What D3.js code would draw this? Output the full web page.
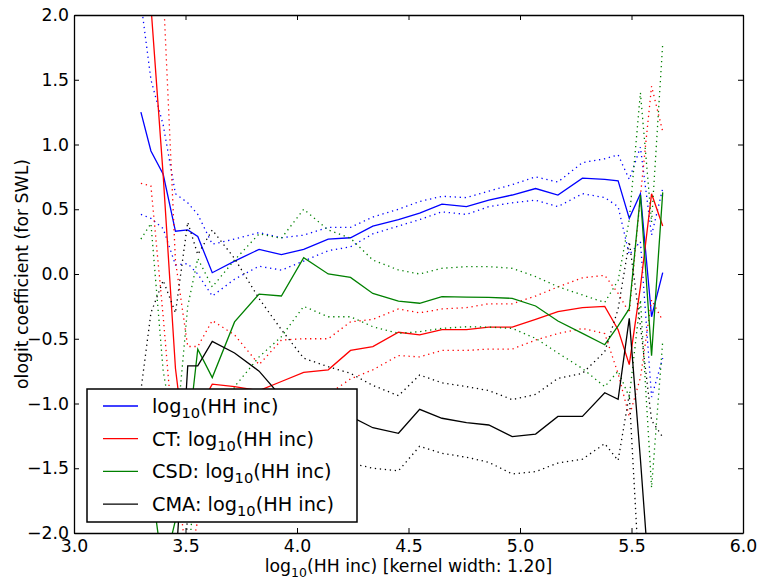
<!DOCTYPE html>
<html>
<head>
<meta charset="utf-8">
<script src="https://cdnjs.cloudflare.com/ajax/libs/d3/7.8.5/d3.min.js"></script>
<style>
  body { margin: 0; background: #fff; }
  text { font-family: "DejaVu Sans", sans-serif; }
</style>
</head>
<body>
<div id="chart"></div>
<script>
// kernel grid (log10 HH income)
var xGrid = [3.30, 3.345, 3.40, 3.455, 3.51, 3.555, 3.62, 3.72, 3.83, 3.93, 4.03, 4.14, 4.24, 4.34, 4.455,
    4.55, 4.65, 4.76, 4.86, 4.965, 5.07, 5.17, 5.28, 5.38, 5.44, 5.49, 5.54, 5.59, 5.64];

// log10(HH inc)
var hhInc = [1.25, 0.95, 0.77, 0.33, 0.34, 0.29, 0.01, 0.10, 0.19, 0.15, 0.19, 0.27, 0.28, 0.37, 0.42,
    0.47, 0.54, 0.52, 0.57, 0.61, 0.66, 0.61, 0.74, 0.73, 0.72, 0.43, 0.62, -0.33, 0.01];
var hhIncHi = [2.10, 1.50, 1.15, 0.62, 0.55, 0.46, 0.23, 0.27, 0.32, 0.28, 0.30, 0.36, 0.36, 0.44, 0.50,
    0.56, 0.60, 0.59, 0.64, 0.69, 0.75, 0.71, 0.86, 0.89, 0.92, 0.73, 0.98, 0.30, 0.66];
var hhIncLo = [0.46, 0.43, 0.35, 0.07, 0.08, 0.00, -0.17, -0.04, 0.06, 0.03, 0.10, 0.18, 0.21, 0.31, 0.37,
    0.42, 0.48, 0.46, 0.52, 0.55, 0.57, 0.52, 0.62, 0.59, 0.52, 0.15, 0.25, -0.95, -0.65];

// CT: log10(HH inc)
var ct = [3.30, 2.07, 0.76, -0.73, -1.50, -1.05, -0.85, -0.87, -0.90, -0.83, -0.76, -0.74, -0.59, -0.56, -0.45,
    -0.47, -0.43, -0.43, -0.41, -0.41, -0.35, -0.29, -0.26, -0.25, -0.43, -0.70, -0.10, 0.62, 0.37];
var ctHi = [5.90, 3.45, 2.20, 0.10, -0.56, -0.56, -0.36, -0.47, -0.70, -0.51, -0.50, -0.50, -0.37, -0.35, -0.27,
    -0.30, -0.27, -0.26, -0.23, -0.23, -0.17, -0.10, -0.03, -0.01, -0.15, -0.30, 0.60, 1.45, 1.10];
var ctLo = [0.70, 0.68, -0.33, -1.45, -2.30, -1.90, -1.45, -1.20, -1.00, -0.97, -1.10, -0.93, -0.81, -0.74, -0.63,
    -0.64, -0.59, -0.59, -0.58, -0.58, -0.51, -0.46, -0.42, -0.46, -0.77, -1.10, -0.80, -0.20, -0.36];

// CSD: log10(HH inc)
var csd = [-1.20, -1.60, -2.30, -1.90, -1.27, -0.58, -0.80, -0.37, -0.155, -0.17, 0.126, 0.00, -0.026, -0.15, -0.21,
    -0.226, -0.175, -0.178, -0.18, -0.188, -0.247, -0.363, -0.458, -0.546, -0.40, -0.268, 0.61, -0.63, 0.63];
var csdHi = [0.27, 0.39, -0.75, -1.30, -0.25, 0.12, -0.10, 0.108, 0.31, 0.276, 0.50, 0.34, 0.276, 0.108, 0.031,
    0.00, 0.044, 0.057, 0.057, 0.044, -0.02, -0.098, -0.162, -0.22, -0.05, 0.42, 1.40, 0.40, 1.78];
var csdLo = [-2.70, -3.60, -3.80, -2.50, -2.30, -1.28, -1.50, -0.87, -0.64, -0.484, -0.25, -0.33, -0.33, -0.407, -0.458,
    -0.445, -0.42, -0.407, -0.41, -0.42, -0.497, -0.61, -0.73, -0.87, -0.75, -0.95, -0.20, -1.65, -0.52];

// CMA: log10(HH inc)
var cma = [-3.50, -3.00, -2.60, -2.30, -0.71, -0.71, -0.52, -0.61, -0.75, -0.95, -1.00, -1.05, -1.10, -1.187, -1.23,
    -1.045, -1.114, -1.148, -1.166, -1.256, -1.236, -1.10, -1.10, -0.917, -0.968, -0.342, -1.43, -2.60, -2.80];
var cmaHi = [-0.90, -0.30, -0.05, -0.30, 0.40, 0.15, 0.34, 0.12, -0.19, -0.43, -0.65, -0.716, -0.767, -0.86, -0.94,
    -0.78, -0.84, -0.87, -0.90, -0.97, -0.93, -0.806, -0.767, -0.60, -0.27, 0.25, -0.40, -1.13, -1.26];
var cmaLo = [-6.00, -5.00, -4.50, -4.20, -1.80, -1.57, -1.38, -1.34, -1.31, -1.40, -1.43, -1.45, -1.46, -1.50, -1.52,
    -1.33, -1.385, -1.415, -1.454, -1.544, -1.526, -1.46, -1.43, -1.31, -1.44, -0.93, -2.50, -5.00, -6.00];

var xTicks = [3.0, 3.5, 4.0, 4.5, 5.0, 5.5, 6.0];
var yTicks = [-2.0, -1.5, -1.0, -0.5, 0.0, 0.5, 1.0, 1.5, 2.0];

var legendPrefixes = ["", "CT: ", "CSD: ", "CMA: "];
var colors = ["#0000ff", "#ff0000", "#008000", "#000000"];

var series = [
    { mid: hhInc, hi: hhIncHi, lo: hhIncLo },
    { mid: ct, hi: ctHi, lo: ctLo },
    { mid: csd, hi: csdHi, lo: csdLo },
    { mid: cma, hi: cmaHi, lo: cmaLo }
];

var svgWidth = 760;
var svgHeight = 585;
var margin = { top: 15, right: 17, bottom: 52, left: 74 };
var width = svgWidth - margin.left - margin.right;
var height = svgHeight - margin.top - margin.bottom;

var svg = d3.select("#chart")
    .append("svg")
    .attr("width", svgWidth)
    .attr("height", svgHeight);

var plot = svg.append("g")
    .attr("transform", `translate(${margin.left}, ${margin.top})`);

var xScale = d3.scaleLinear().domain([3.0, 6.0]).range([0, width]);
var yScale = d3.scaleLinear().domain([-2.0, 2.0]).range([height, 0]);

plot.append("clipPath")
    .attr("id", "clip")
    .append("rect")
    .attr("width", width)
    .attr("height", height);

var line = d3.line()
    .x((d, i) => xScale(xGrid[i]))
    .y(d => yScale(d));

var lines = plot.append("g").attr("clip-path", "url(#clip)");

series.forEach(function(s, k) {
    lines.append("path")
        .attr("d", line(s.mid))
        .attr("fill", "none")
        .attr("stroke", colors[k])
        .attr("stroke-width", 1.3);
    [s.hi, s.lo].forEach(function(band) {
        lines.append("path")
            .attr("d", line(band))
            .attr("fill", "none")
            .attr("stroke", colors[k])
            .attr("stroke-width", 1.3)
            .attr("stroke-dasharray", "1.3,3.7");
    });
});

// axes, ticks pointing inside on all four sides
var fmt = d3.format(".1f");

function styleAxis(g) {
    g.selectAll("path").attr("stroke", "#000").attr("stroke-width", 1.3);
    g.selectAll("line").attr("stroke", "#000").attr("stroke-width", 1);
    g.selectAll("text").attr("font-size", 17.3).attr("fill", "#000")
        .attr("font-family", "DejaVu Sans, sans-serif");
}

plot.append("g")
    .attr("transform", `translate(0, ${height})`)
    .call(d3.axisBottom(xScale).tickValues(xTicks).tickFormat(fmt).tickSizeInner(-5).tickSizeOuter(0).tickPadding(7))
    .call(styleAxis);

plot.append("g")
    .call(d3.axisTop(xScale).tickValues(xTicks).tickFormat("").tickSizeInner(-5).tickSizeOuter(0))
    .call(styleAxis);

plot.append("g")
    .call(d3.axisLeft(yScale).tickValues(yTicks).tickFormat(fmt).tickSizeInner(-5).tickSizeOuter(0).tickPadding(5))
    .call(styleAxis);

plot.append("g")
    .attr("transform", `translate(${width}, 0)`)
    .call(d3.axisRight(yScale).tickValues(yTicks).tickFormat("").tickSizeInner(-5).tickSizeOuter(0))
    .call(styleAxis);

// axis labels
function logLabel(sel, prefix, suffix, sub) {
    sel.append("tspan").text(prefix + "log");
    sel.append("tspan").attr("font-size", sub).attr("dy", 5).text("10");
    sel.append("tspan").attr("dy", -5).text("(HH inc)" + suffix);
}

svg.append("text")
    .attr("x", margin.left + width / 2)
    .attr("y", 572)
    .attr("text-anchor", "middle")
    .attr("font-size", 17.3)
    .call(logLabel, "", " [kernel width: 1.20]", "0.72em");

svg.append("text")
    .attr("transform", `translate(28, ${margin.top + height / 2}) rotate(-90)`)
    .attr("text-anchor", "middle")
    .attr("font-size", 17.3)
    .text("ologit coefficient (for SWL)");

// legend
var legend = svg.append("g").attr("transform", "translate(87, 389)");

legend.append("rect")
    .attr("width", 270)
    .attr("height", 133)
    .attr("fill", "#fff")
    .attr("stroke", "#000")
    .attr("stroke-width", 1.5);

legendPrefixes.forEach(function(p, k) {
    var y = 17 + k * 32.7;
    legend.append("line")
        .attr("x1", 16).attr("x2", 51)
        .attr("y1", y).attr("y2", y)
        .attr("stroke", colors[k])
        .attr("stroke-width", 1.3);
    legend.append("text")
        .attr("x", 65)
        .attr("y", y + 6.8)
        .attr("font-size", 19.3)
        .call(logLabel, p, "", "0.76em");
});
</script>
</body>
</html>
